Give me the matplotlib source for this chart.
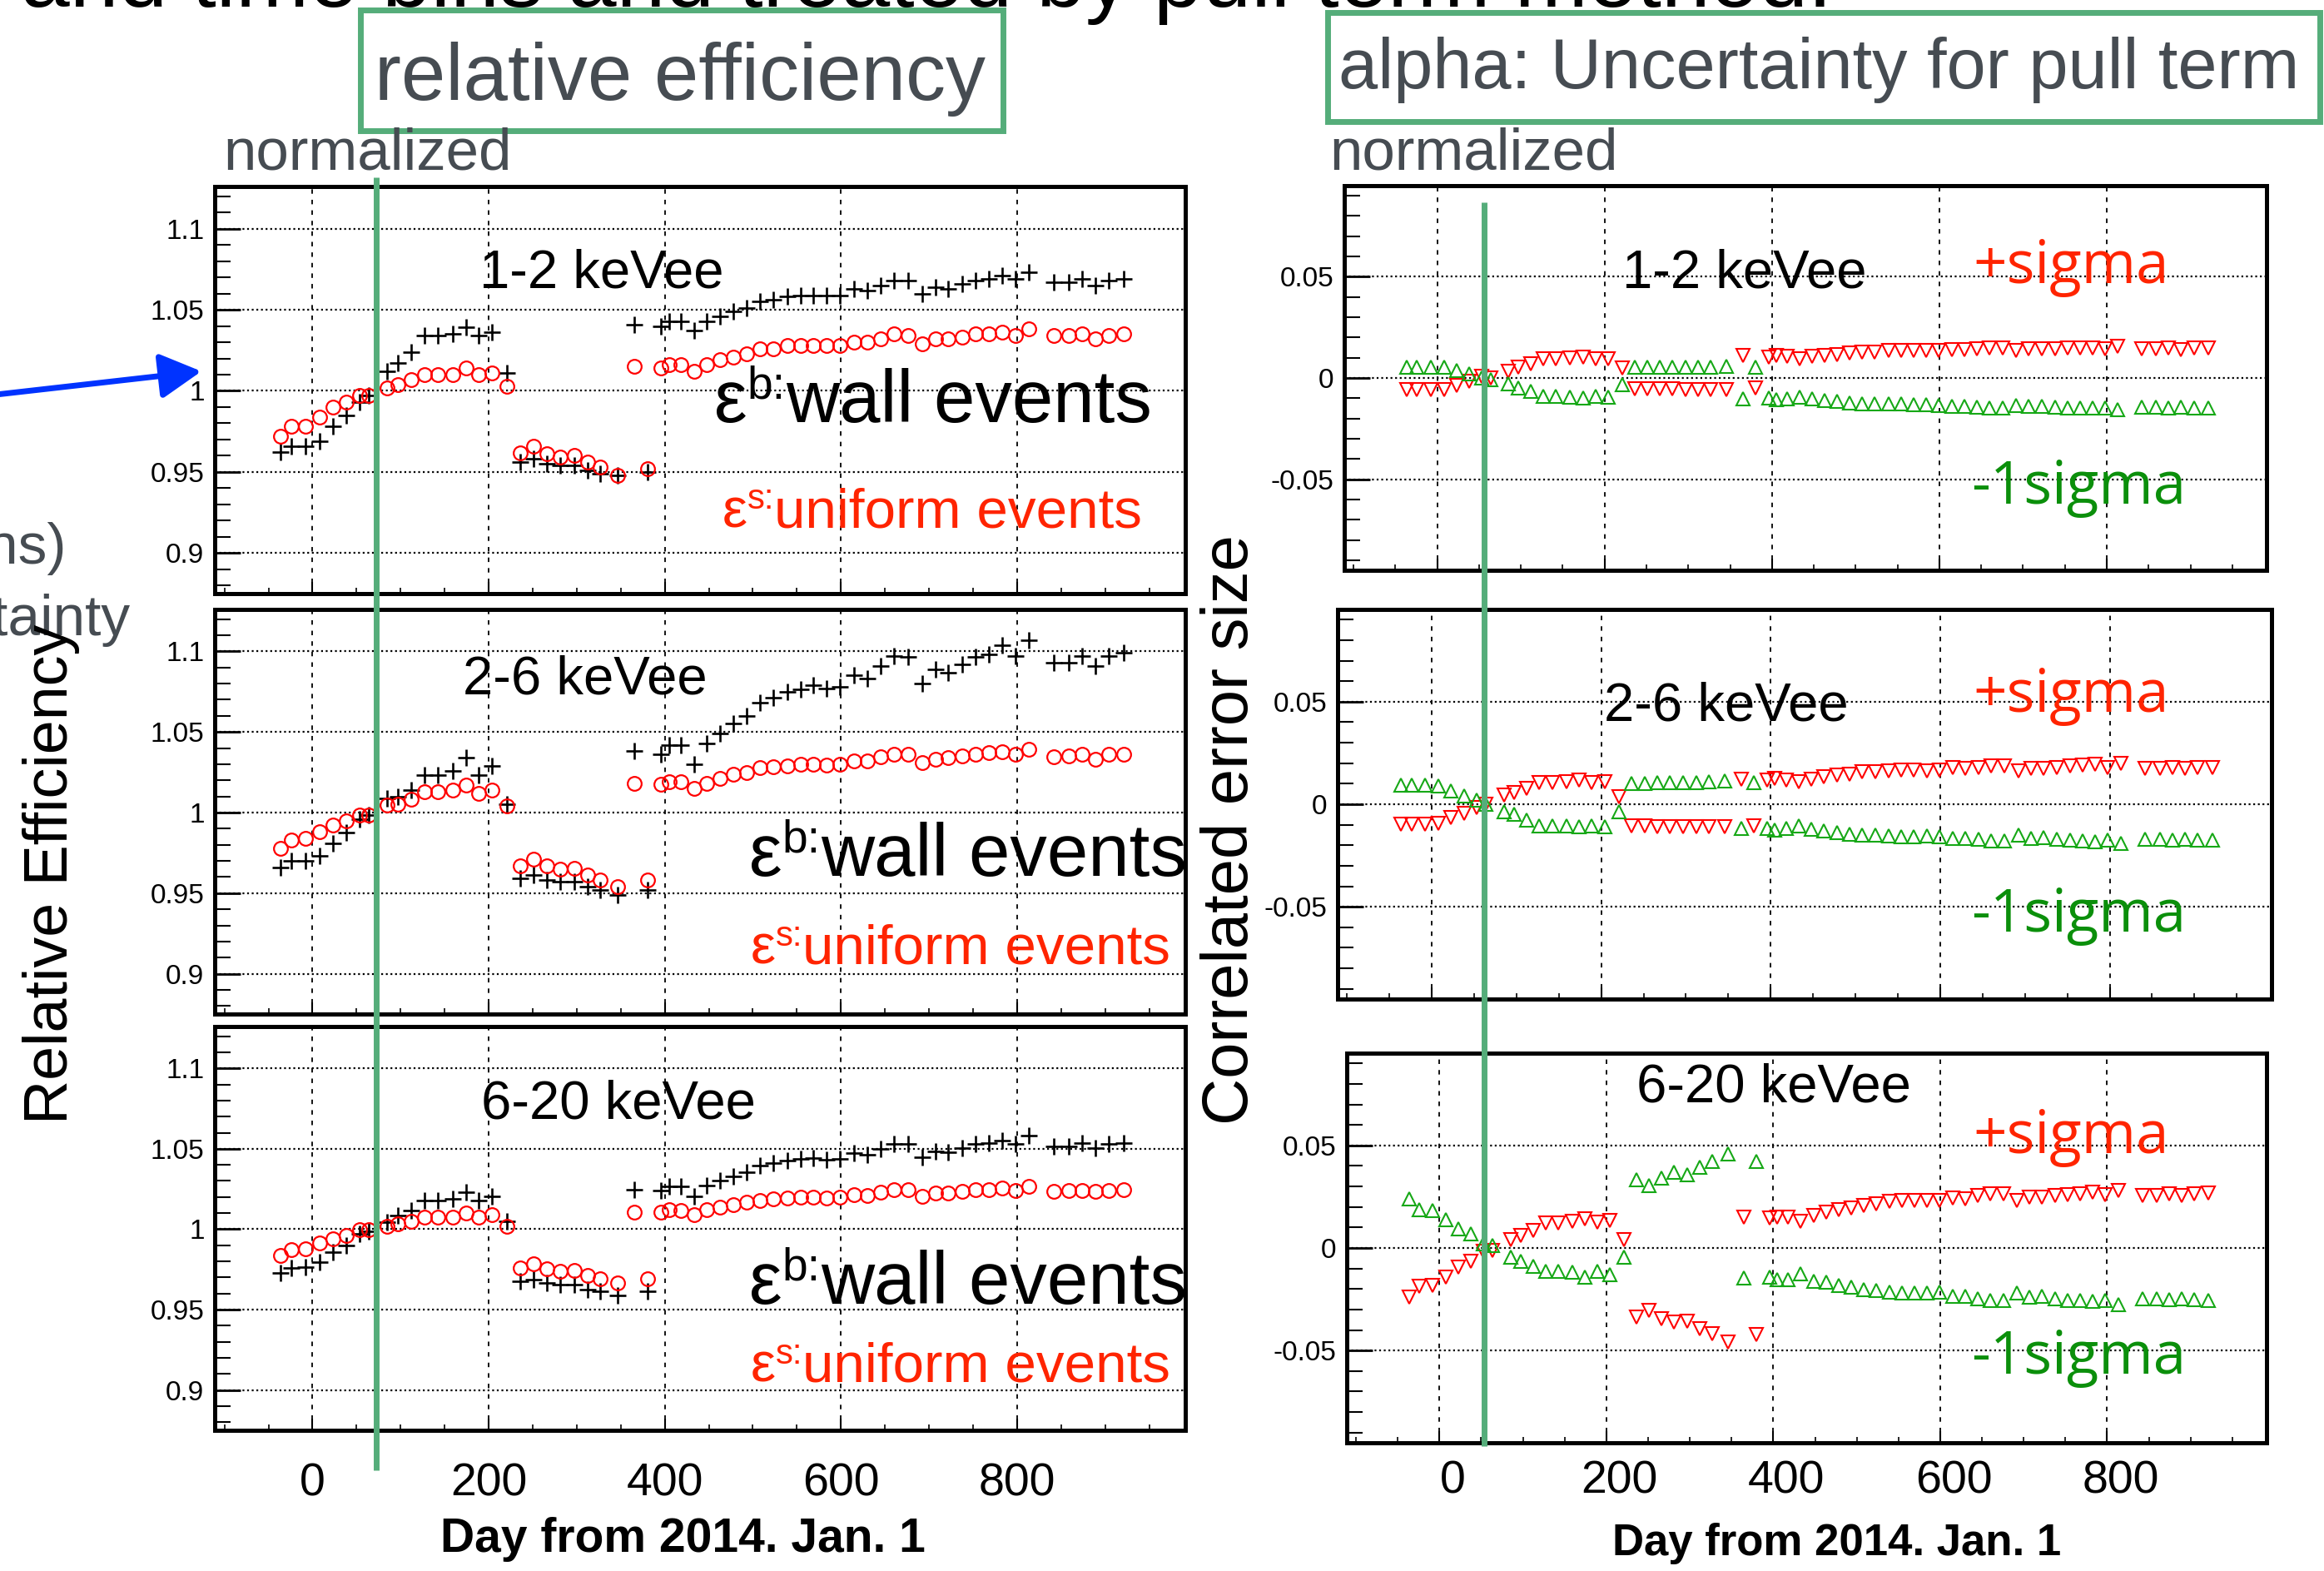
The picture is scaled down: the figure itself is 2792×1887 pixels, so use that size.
import numpy as np
import matplotlib; matplotlib.use("Agg")
import matplotlib.pyplot as plt
import matplotlib.transforms as mtransforms
from matplotlib.patches import Rectangle
from matplotlib.ticker import MultipleLocator, FuncFormatter

plt.rcParams.update({"font.family": ["Liberation Sans", "DejaVu Sans"],
                     "axes.unicode_minus": False})

# ---- data (day from 2014 Jan 1) ----
days = [-36, -24, -8, 8, 23, 38, 53, 64, 85, 97, 112, 127, 142, 159, 174, 189, 204, 221,
        236, 251, 266, 281, 297, 312, 327, 346, 365, 380,
        396, 405, 418, 433, 448, 463, 478, 493, 508, 523, 539, 554, 569, 584, 599, 615, 630,
        645, 660, 676, 692, 707, 722, 738, 753, 768, 783, 798, 813,
        842, 859, 874, 889, 904, 921]
energy_bins = ["1-2 keVee", "2-6 keVee", "6-20 keVee"]

# relative efficiency, wall events (black +)
eff12_wall = [0.9625, 0.966, 0.966, 0.969, 0.978, 0.985, 0.993, 0.997, 1.012, 1.017, 1.024, 1.034, 1.034, 1.035, 1.039, 1.034, 1.036, 1.011,
              0.956, 0.958, 0.955, 0.954, 0.954, 0.951, 0.949, 0.948, 1.041, 0.950,
              1.040, 1.043, 1.043, 1.037, 1.043, 1.046, 1.049, 1.051, 1.055, 1.056, 1.058, 1.059, 1.059, 1.059, 1.059, 1.063, 1.062,
              1.065, 1.068, 1.068, 1.060, 1.064, 1.063, 1.066, 1.068, 1.069, 1.071, 1.069, 1.073,
              1.067, 1.067, 1.069, 1.065, 1.068, 1.069]
eff26_wall = [0.966, 0.970, 0.970, 0.973, 0.981, 0.9875, 0.996, 0.9986, 1.009, 1.010, 1.014, 1.023, 1.023, 1.026, 1.034, 1.023, 1.029, 1.005,
              0.959, 0.961, 0.958, 0.957, 0.957, 0.954, 0.952, 0.949, 1.038, 0.952,
              1.036, 1.042, 1.042, 1.030, 1.043, 1.049, 1.055, 1.060, 1.068, 1.071, 1.075, 1.0765, 1.079, 1.077, 1.078, 1.085, 1.083,
              1.091, 1.097, 1.0966, 1.080, 1.089, 1.0865, 1.092, 1.0966, 1.098, 1.1036, 1.097, 1.107,
              1.093, 1.093, 1.097, 1.091, 1.097, 1.099]
eff620_wall = [0.9727, 0.9757, 0.9764, 0.9797, 0.9859, 0.990, 0.9969, 0.9985, 1.0044, 1.0084, 1.0117, 1.0176, 1.0176, 1.019, 1.0232, 1.0176, 1.0205, 1.005,
               0.9676, 0.9687, 0.9665, 0.9654, 0.9654, 0.9625, 0.9616, 0.9588, 1.0245, 0.9616,
               1.0238, 1.0265, 1.0265, 1.0205, 1.0271, 1.030, 1.0331, 1.0353, 1.0397, 1.041, 1.0426, 1.0437, 1.0441, 1.0432, 1.0437, 1.0474, 1.0463,
               1.0498, 1.0531, 1.0531, 1.0448, 1.0485, 1.0481, 1.0507, 1.0529, 1.0536, 1.0551, 1.0531, 1.058,
               1.0514, 1.0514, 1.0536, 1.0507, 1.0529, 1.0536]

# relative efficiency, uniform events (red o)
eff12_unif = [0.972, 0.978, 0.978, 0.984, 0.990, 0.993, 0.997, 0.997, 1.002, 1.004, 1.007, 1.010, 1.010, 1.010, 1.014, 1.010, 1.011, 1.003,
              0.962, 0.966, 0.961, 0.959, 0.960, 0.956, 0.953, 0.948, 1.015, 0.952,
              1.014, 1.016, 1.016, 1.012, 1.016, 1.019, 1.021, 1.023, 1.026, 1.026, 1.028, 1.028, 1.028, 1.028, 1.028, 1.030, 1.030,
              1.032, 1.035, 1.034, 1.029, 1.032, 1.032, 1.033, 1.035, 1.035, 1.036, 1.034, 1.038,
              1.034, 1.034, 1.035, 1.032, 1.034, 1.035]
eff26_unif = [0.978, 0.983, 0.984, 0.988, 0.992, 0.995, 0.9986, 0.9986, 1.0046, 1.005, 1.008, 1.013, 1.013, 1.014, 1.017, 1.012, 1.014, 1.004,
              0.967, 0.971, 0.967, 0.965, 0.9656, 0.961, 0.958, 0.954, 1.018, 0.958,
              1.0175, 1.019, 1.019, 1.015, 1.018, 1.021, 1.0235, 1.025, 1.028, 1.0286, 1.029, 1.030, 1.030, 1.0295, 1.030, 1.032, 1.032,
              1.0346, 1.036, 1.036, 1.031, 1.033, 1.034, 1.035, 1.036, 1.037, 1.0375, 1.036, 1.039,
              1.0346, 1.035, 1.036, 1.033, 1.036, 1.036]
eff620_unif = [0.9835, 0.9874, 0.9879, 0.9914, 0.994, 0.9963, 0.9996, 0.9996, 1.0018, 1.0035, 1.0051, 1.0073, 1.0073, 1.0077, 1.0099, 1.0073, 1.0088, 1.0018,
               0.9757, 0.9786, 0.9753, 0.9738, 0.9742, 0.9713, 0.9691, 0.9665, 1.0106, 0.9691,
               1.0106, 1.0121, 1.0117, 1.0088, 1.0123, 1.0139, 1.0154, 1.0168, 1.0176, 1.0187, 1.0194, 1.0198, 1.0198, 1.0194, 1.0198, 1.0216, 1.0209,
               1.0232, 1.0245, 1.0245, 1.0205, 1.0223, 1.0223, 1.0234, 1.0245, 1.0245, 1.0254, 1.0238, 1.0265,
               1.0234, 1.0238, 1.0243, 1.0234, 1.0243, 1.0245]

# correlated error size, +sigma (red v) and -1sigma (green ^)
alpha12_plus = [-0.0057, -0.0057, -0.0057, -0.0057, -0.0038, -0.0016, 0.0007, 0.0, 0.0034, 0.0054, 0.0071, 0.0095, 0.0095, 0.0098, 0.0102, 0.0093, 0.0093, 0.0048,
                -0.0054, -0.0054, -0.0054, -0.0054, -0.0057, -0.0057, -0.0057, -0.0057, 0.0109, -0.005,
                0.0102, 0.0109, 0.0106, 0.0095, 0.0106, 0.0112, 0.0116, 0.0123, 0.0129, 0.0129, 0.0136, 0.0136, 0.0136, 0.0136, 0.0136, 0.014, 0.014,
                0.0143, 0.0147, 0.0147, 0.0136, 0.0143, 0.0143, 0.0143, 0.0147, 0.015, 0.015, 0.0143, 0.0157,
                0.0143, 0.0143, 0.0146, 0.014, 0.0146, 0.0146]
alpha12_minus = [0.0054, 0.0054, 0.0054, 0.0054, 0.0038, 0.002, 0.0, -0.0007, -0.003, -0.0048, -0.0065, -0.0089, -0.0089, -0.0093, -0.0098, -0.0089, -0.0093, -0.0034,
                 0.0054, 0.0054, 0.0054, 0.0054, 0.0054, 0.0054, 0.0054, 0.0057, -0.0102, 0.0054,
                 -0.0098, -0.0106, -0.0102, -0.0093, -0.0102, -0.0109, -0.0116, -0.0123, -0.0127, -0.0127, -0.0129, -0.0129, -0.0132, -0.0132, -0.0136, -0.014, -0.014,
                 -0.0143, -0.0147, -0.0147, -0.0134, -0.014, -0.014, -0.0143, -0.0147, -0.015, -0.015, -0.015, -0.0157,
                 -0.0143, -0.0143, -0.0147, -0.0143, -0.0147, -0.0147]
alpha26_plus = [-0.0097, -0.0097, -0.0097, -0.0095, -0.0064, -0.0043, -0.0016, 0.0, 0.0045, 0.0058, 0.0078, 0.0105, 0.0105, 0.011, 0.0119, 0.0105, 0.011, 0.0035,
                -0.0104, -0.0104, -0.0108, -0.0108, -0.0108, -0.0108, -0.0111, -0.0111, 0.0122, -0.0104,
                0.0119, 0.0126, 0.0119, 0.0108, 0.0122, 0.0132, 0.0143, 0.0146, 0.0157, 0.0159, 0.0164, 0.0166, 0.0166, 0.0164, 0.0166, 0.018, 0.0173,
                0.018, 0.0186, 0.0186, 0.0162, 0.0176, 0.0173, 0.018, 0.0186, 0.0189, 0.0193, 0.018, 0.0197,
                0.0176, 0.0176, 0.018, 0.0173, 0.018, 0.018]
alpha26_minus = [0.0095, 0.0092, 0.0092, 0.0089, 0.0065, 0.004, 0.0022, 0.0, -0.0036, -0.005, -0.0077, -0.0104, -0.0104, -0.0104, -0.0111, -0.0104, -0.0108, -0.0036,
                 0.0103, 0.0103, 0.0105, 0.0105, 0.0105, 0.0105, 0.0108, 0.0112, -0.0118, 0.0105,
                 -0.0118, -0.0124, -0.0118, -0.0104, -0.0122, -0.0131, -0.0138, -0.0145, -0.0151, -0.0151, -0.0155, -0.0158, -0.0158, -0.0155, -0.0158, -0.0168, -0.0165,
                 -0.0172, -0.0178, -0.0178, -0.0151, -0.0165, -0.0162, -0.0172, -0.0176, -0.0178, -0.0182, -0.0176, -0.0189,
                 -0.0172, -0.0172, -0.0176, -0.0172, -0.0176, -0.0176]
alpha620_plus = [-0.024, -0.0188, -0.0184, -0.0141, -0.0092, -0.0063, -0.0017, -0.0014, 0.0042, 0.0059, 0.0085, 0.012, 0.012, 0.0129, 0.0143, 0.0125, 0.0134, 0.0042,
                 -0.0336, -0.0306, -0.0344, -0.0362, -0.0358, -0.0393, -0.0419, -0.0457, 0.0151, -0.0423,
                 0.0146, 0.0151, 0.0151, 0.0129, 0.016, 0.0174, 0.0186, 0.0195, 0.0209, 0.0216, 0.0226, 0.023, 0.0233, 0.023, 0.023, 0.0242, 0.0238,
                 0.0256, 0.0264, 0.0264, 0.0233, 0.0247, 0.0247, 0.0256, 0.0261, 0.0264, 0.0273, 0.0259, 0.0282,
                 0.0256, 0.0256, 0.0264, 0.0256, 0.0264, 0.0268]
alpha620_minus = [0.0238, 0.0186, 0.0183, 0.0139, 0.0094, 0.007, 0.0021, 0.0012, -0.0045, -0.0063, -0.0089, -0.0115, -0.0115, -0.0118, -0.0144, -0.0115, -0.013, -0.0045,
                  0.0334, 0.0303, 0.0343, 0.0369, 0.0357, 0.0395, 0.0421, 0.0459, -0.0148, 0.0424,
                  -0.0144, -0.0153, -0.0153, -0.0127, -0.0162, -0.0167, -0.0183, -0.0191, -0.0205, -0.0209, -0.0214, -0.0219, -0.0219, -0.0219, -0.0217, -0.0237, -0.0237,
                  -0.0249, -0.0257, -0.0257, -0.0219, -0.024, -0.0237, -0.0249, -0.0257, -0.0257, -0.0261, -0.0254, -0.0275,
                  -0.0249, -0.0249, -0.0252, -0.0249, -0.0252, -0.0257]

wall = [eff12_wall, eff26_wall, eff620_wall]
unif = [eff12_unif, eff26_unif, eff620_unif]
plus = [alpha12_plus, alpha26_plus, alpha620_plus]
minus = [alpha12_minus, alpha26_minus, alpha620_minus]

GREEN = "#55ad7a"; GRAY = "#464c52"; RED_TXT = "#ff2400"; GRN_TXT = "#0b8f0b"
W, H = 2792, 1887
fig = plt.figure(figsize=(W / 100, H / 100), dpi=100)

def rect(x0, y0, x1, y1):
    return [x0 / W, 1 - y1 / H, (x1 - x0) / W, (y1 - y0) / H]

fmt = FuncFormatter(lambda v, p: "%g" % (round(v, 4) + 0.0))

def style(ax, lim, major, minor, show_x, xpad):
    ax.set_xlim(-111, 991); ax.set_ylim(*lim)
    ax.xaxis.set_major_locator(MultipleLocator(200)); ax.xaxis.set_minor_locator(MultipleLocator(50))
    ax.yaxis.set_major_locator(MultipleLocator(major)); ax.yaxis.set_minor_locator(MultipleLocator(minor))
    ax.yaxis.set_major_formatter(fmt)
    ax.tick_params(which="both", direction="in", top=False, right=False)
    ax.tick_params(axis="y", which="major", length=22, width=2, labelsize=24, pad=9)
    ax.tick_params(axis="y", which="minor", length=14, width=1.5)
    ax.tick_params(axis="x", which="major", length=10, width=1.5, labelsize=40, pad=xpad)
    ax.tick_params(axis="x", which="minor", length=5, width=1.2)
    ax.tick_params(axis="x", labelbottom=show_x)
    ax.grid(axis="x", which="major", color="black", ls=(0, (3, 4)), lw=1.3)
    ax.grid(axis="y", which="major", color="black", ls=(0, (1, 1.5)), lw=1.6)
    for s in ax.spines.values():
        s.set_linewidth(3.6)

left_boxes = [(258, 224, 1424, 713), (258, 732, 1424, 1218), (258, 1233, 1424, 1718)]
right_boxes = [(1615, 223, 2723, 685), (1607, 732, 2729, 1200), (1618, 1265, 2723, 1733)]

for i in range(3):
    ax = fig.add_axes(rect(*left_boxes[i]))
    ax.plot(days, wall[i], ls="none", marker="+", ms=15, mew=1.9, color="black")
    ax.plot(days, unif[i], ls="none", marker="o", ms=12, mfc="none", mec="red", mew=1.6)
    style(ax, (0.875, 1.126), 0.05, 0.01, i == 2, 28)

    ax = fig.add_axes(rect(*right_boxes[i]))
    ax.plot(days, plus[i], ls="none", marker="v", ms=11, mfc="none", mec="#ff0000", mew=1.5)
    ax.plot(days, minus[i], ls="none", marker="^", ms=11, mfc="none", mec="#16a816", mew=1.5)
    style(ax, (-0.095, 0.095), 0.05, 0.01, i == 2, 15)
    if i == 2:
        off = mtransforms.ScaledTranslation(0.16, 0, fig.dpi_scale_trans)
        for t in ax.xaxis.get_major_ticks():
            t.label1.set_transform(t.label1.get_transform() + off)

# ---- slide overlay (pixel coordinates) ----
ov = fig.add_axes([0, 0, 1, 1], zorder=10)
ov.set_xlim(0, W); ov.set_ylim(H, 0); ov.axis("off")

def eps_text(x, y, sup, rest, fs, color):
    # epsilon with a raised "b:" / "s:" written right after it
    t1 = ov.text(x, y, "ε", fontsize=fs, color=color, va="baseline")
    t2 = ov.annotate(sup, xy=(1, 0), xycoords=t1, xytext=(0, fs * 0.40),
                     textcoords="offset points", fontsize=fs * 0.62, color=color, va="bottom")
    ov.annotate(rest, xy=(1, 0), xycoords=(t2, t1), xytext=(0, 0),
                textcoords="offset points", fontsize=fs, color=color, va="bottom")

ov.text(25, 8, "and time bins and treated by pull term method.", fontsize=76, va="baseline")
ov.add_patch(Rectangle((433, 12), 772, 145, fill=False, ec=GREEN, lw=5))
ov.add_patch(Rectangle((1595, 15), 1192, 131, fill=False, ec=GREEN, lw=5))
ov.text(817, 120, "relative efficiency", fontsize=69, color=GRAY, ha="center", va="baseline")
ov.text(1608, 106, "alpha: Uncertainty for pull term", fontsize=61, color=GRAY, va="baseline")
ov.text(268, 203, "normalized", fontsize=51, color=GRAY, va="baseline")
ov.text(1597, 203, "normalized", fontsize=51, color=GRAY, va="baseline")
ov.text(80, 677, "bins)", fontsize=50, color=GRAY, ha="right", va="baseline")
ov.text(157, 763, "uncertainty", fontsize=50, color=GRAY, ha="right", va="baseline")
ov.annotate("", xy=(242, 446), xytext=(-5, 474),
            arrowprops=dict(arrowstyle="-|>,head_length=0.55,head_width=0.3",
                            color="#0033ff", lw=5, mutation_scale=55, shrinkA=0, shrinkB=0))

ov.plot([452, 452], [213, 1766], color=GREEN, lw=5, solid_capstyle="butt")
ov.plot([1783, 1783], [243, 1737], color=GREEN, lw=5, solid_capstyle="butt")

ov.text(62, 1050, "Relative Efficiency", rotation=90, fontsize=53, ha="center", va="center")
ov.text(1478, 997, "Correlated error size", rotation=90, fontsize=56, ha="center", va="center")
ov.text(820, 1864, "Day from 2014. Jan. 1", fontsize=41, weight="bold", ha="center", va="baseline")
ov.text(2207, 1868, "Day from 2014. Jan. 1", fontsize=38, weight="bold", ha="center", va="baseline")

left_lbl = [(576, 346), (556, 833), (578, 1343)]
wall_lbl = [(858, 507), (900, 1052), (900, 1566)]
unif_lbl = [(868, 633), (902, 1158), (902, 1660)]
right_lbl = [(1949, 346), (1927, 865), (1966, 1324)]
plus_lbl = [(2370, 340), (2370, 855), (2370, 1385)]
minus_lbl = [(2368, 605), (2368, 1119), (2368, 1650)]
for i in range(3):
    ov.text(*left_lbl[i], energy_bins[i], fontsize=47, va="baseline")
    eps_text(*wall_lbl[i], "b:", "wall events", 64, "black")
    eps_text(*unif_lbl[i], "s:", "uniform events", 48.5, RED_TXT)
    ov.text(*right_lbl[i], energy_bins[i], fontsize=47, va="baseline")
    ov.text(*plus_lbl[i], "+sigma", fontsize=51, color=RED_TXT, va="baseline", family="Open Sans")
    ov.text(*minus_lbl[i], "-1sigma", fontsize=51, color=GRN_TXT, va="baseline", family="Open Sans")

fig.savefig("out.png", dpi=100)
